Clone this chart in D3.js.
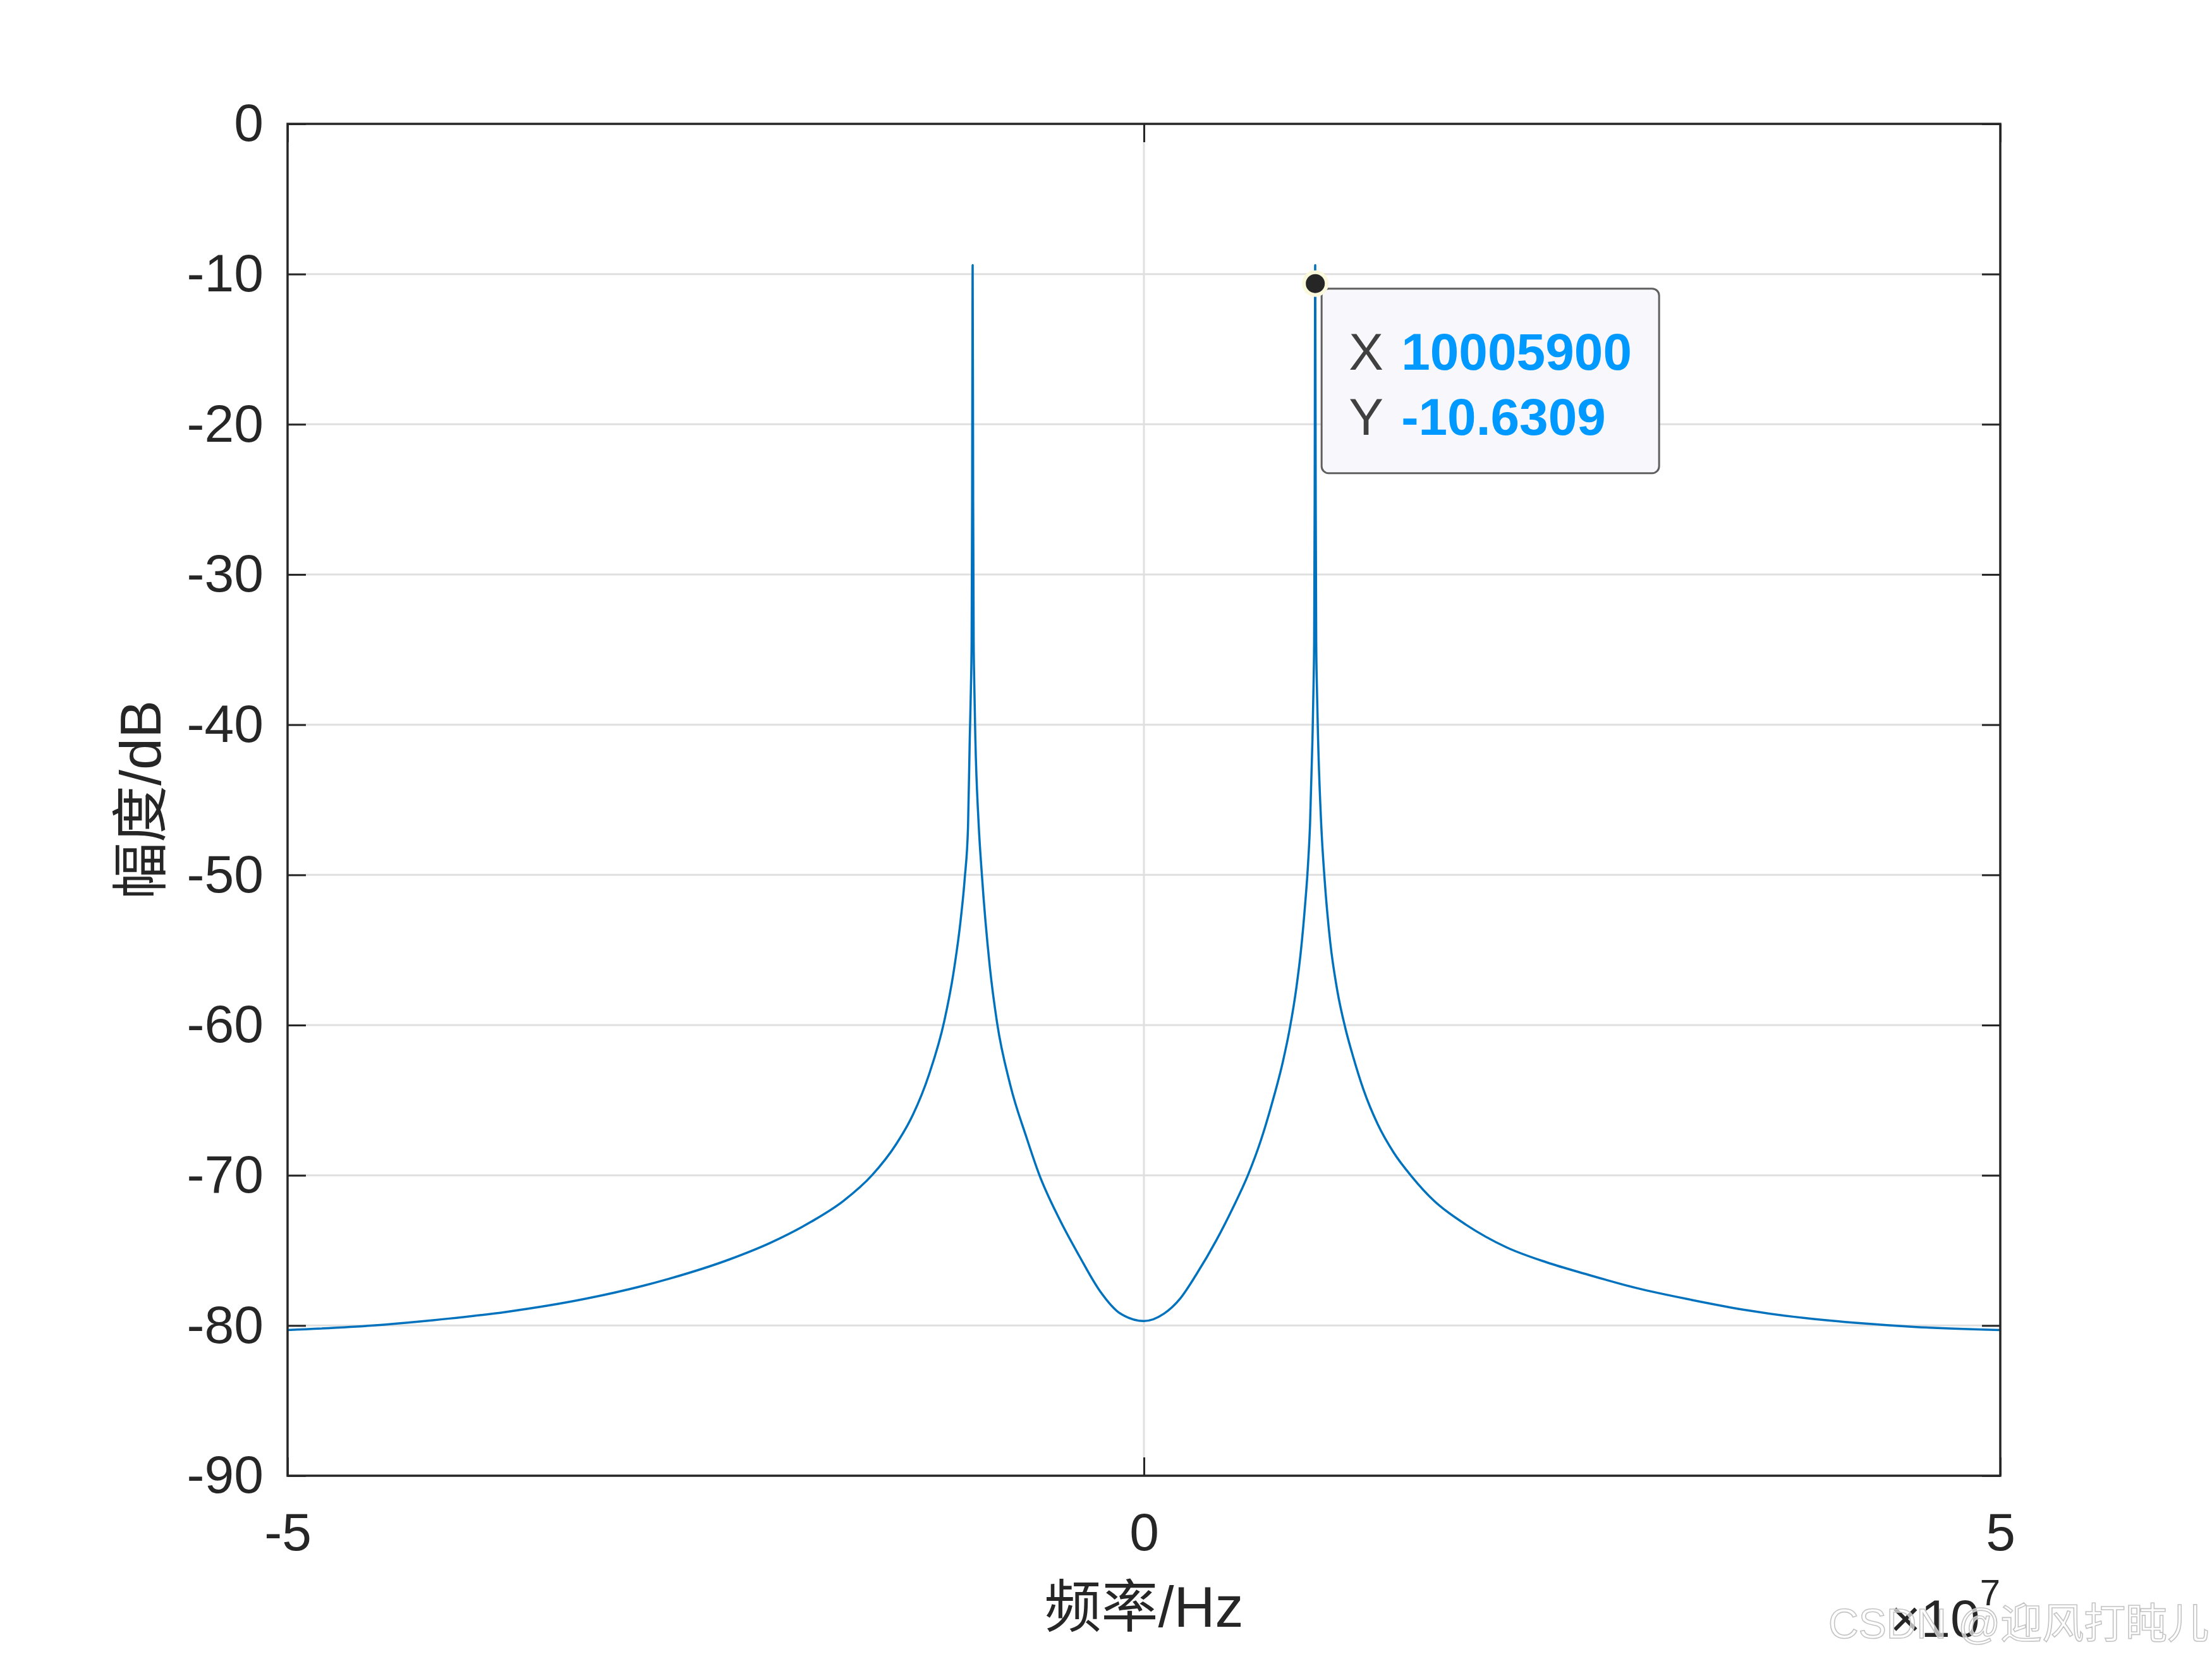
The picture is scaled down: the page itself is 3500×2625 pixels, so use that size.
<!DOCTYPE html>
<html>
<head>
<meta charset="utf-8">
<script src="https://cdn.jsdelivr.net/npm/d3@7"></script>
<style>
  html, body { margin: 0; padding: 0; background: #ffffff; }
  svg { display: block; }
</style>
</head>
<body>
<script>
// ---- data (frequency in units of 1e7 Hz, magnitude in dB) ----
const freqE7 = [
  -5.00, -4.50, -4.20, -3.727, -3.252, -2.776, -2.420, -2.182, -1.944, -1.754,
  -1.588, -1.445, -1.350, -1.255, -1.165, -1.113, -1.070, -1.046, -1.027, -1.017,
  -1.010, -1.006, -1.003, -1.0006, -1.000, -0.997, -0.994, -0.991, -0.984, -0.965,
  -0.946, -0.899, -0.858, -0.780, -0.685, -0.613, -0.494, -0.376, -0.257, -0.138,
  0.000,
  0.118, 0.212, 0.306, 0.424, 0.518, 0.607, 0.682, 0.753, 0.812, 0.852,
  0.889, 0.918, 0.941, 0.956, 0.970, 0.984, 0.991, 0.994, 0.997, 1.000,
  1.00059, 1.003, 1.006, 1.010, 1.017, 1.035, 1.055, 1.087, 1.129, 1.176,
  1.224, 1.282, 1.365, 1.459, 1.565, 1.694, 1.882, 2.118, 2.353, 2.588,
  2.874, 3.200, 3.530, 3.860, 4.190, 4.510, 5.000
];
const magDb = [
  -80.3, -80.0, -79.7, -79.1, -78.2, -76.9, -75.6, -74.5, -73.1, -71.7,
  -70.0, -67.9, -66.0, -63.3, -59.7, -56.6, -53.0, -50.2, -46.8, -41.0,
  -37.5, -34.5, -25.0, -10.6, -9.4, -25.0, -34.5, -37.0, -41.0, -46.6,
  -50.0, -56.2, -59.8, -64.0, -67.5, -69.9, -72.9, -75.4, -77.7, -79.2,
  -79.7,
  -79.2, -78.2, -76.6, -74.3, -72.2, -70.0, -67.7, -65.0, -62.4, -60.2,
  -57.6, -54.9, -52.0, -49.7, -46.6, -41.0, -37.0, -34.5, -25.0, -9.4,
  -10.6309, -25.0, -34.5, -37.5, -41.0, -46.6, -50.3, -54.4, -57.7, -60.2,
  -62.2, -64.3, -66.6, -68.5, -70.1, -71.7, -73.3, -74.8, -75.8, -76.6,
  -77.5, -78.3, -79.0, -79.5, -79.85, -80.1, -80.3
];
const xTicks = [-5, 0, 5];
const yTicks = [0, -10, -20, -30, -40, -50, -60, -70, -80, -90];
const tipXHz = 10005900;
const tipY = -10.6309;
const xLabel = "频率/Hz";
const yLabel = "幅度/dB";
const watermark = "CSDN @迎风打盹儿";

// ---- layout ----
const W = 3500, H = 2625;
const L = 455, R = 3165, T = 196, B = 2335;
const axisColor = "#262626";
const latin = "'Liberation Sans', Arial, Helvetica, sans-serif";
const mixed = "'Liberation Sans', 'Noto Sans CJK SC', sans-serif";

const svg = d3.select("body").append("svg")
  .attr("width", W).attr("height", H)
  .attr("viewBox", `0 0 ${W} ${H}`);
svg.append("rect").attr("width", W).attr("height", H).attr("fill", "#ffffff");

const x = d3.scaleLinear().domain([-5, 5]).range([L, R]);
const y = d3.scaleLinear().domain([-90, 0]).range([B, T]);

// grid
const grid = svg.append("g");
grid.selectAll("line.h").data(yTicks).join("line")
  .attr("x1", L).attr("x2", R)
  .attr("y1", d => y(d)).attr("y2", d => y(d))
  .attr("stroke", "#dfdfdf").attr("stroke-width", 3);
grid.selectAll("line.v").data(xTicks).join("line")
  .attr("y1", T).attr("y2", B)
  .attr("x1", d => x(d)).attr("x2", d => x(d))
  .attr("stroke", "#dfdfdf").attr("stroke-width", 3);

// data line
const pts = freqE7.map((f, i) => [f, magDb[i]]);
svg.append("path")
  .datum(pts)
  .attr("fill", "none")
  .attr("stroke", "#0072BD")
  .attr("stroke-width", 3.5)
  .attr("stroke-linejoin", "round")
  .attr("d", d3.line().x(d => x(d[0])).y(d => y(d[1])).curve(d3.curveMonotoneX));

// axes
const fmt = d => String(d);
function styleAxis(g, showLabels) {
  g.select(".domain").remove();
  g.selectAll(".tick line").attr("stroke", axisColor).attr("stroke-width", 3);
  g.selectAll(".tick text")
    .attr("fill", axisColor)
    .style("font-family", latin)
    .style("font-size", "84px");
  if (!showLabels) g.selectAll(".tick text").remove();
}
svg.append("g").attr("transform", `translate(0,${B})`)
  .call(d3.axisBottom(x).tickValues(xTicks).tickFormat(fmt).tickSize(-29).tickPadding(58))
  .call(g => styleAxis(g, true));
svg.append("g").attr("transform", `translate(0,${T})`)
  .call(d3.axisTop(x).tickValues(xTicks).tickFormat(fmt).tickSize(-29))
  .call(g => styleAxis(g, false));
svg.append("g").attr("transform", `translate(${L},0)`)
  .call(d3.axisLeft(y).tickValues(yTicks).tickFormat(fmt).tickSize(-29).tickPadding(38))
  .call(g => styleAxis(g, true));
svg.append("g").attr("transform", `translate(${R},0)`)
  .call(d3.axisRight(y).tickValues(yTicks).tickFormat(fmt).tickSize(-29))
  .call(g => styleAxis(g, false));

// box
svg.append("rect")
  .attr("x", L).attr("y", T).attr("width", R - L).attr("height", B - T)
  .attr("fill", "none").attr("stroke", axisColor).attr("stroke-width", 3.5);

// axis labels
svg.append("text")
  .attr("x", (L + R) / 2).attr("y", 2574)
  .attr("text-anchor", "middle")
  .attr("fill", axisColor)
  .style("font-family", mixed).style("font-size", "90px")
  .text(xLabel);
svg.append("text")
  .attr("transform", `translate(254,${(T + B) / 2}) rotate(-90)`)
  .attr("text-anchor", "middle")
  .attr("fill", axisColor)
  .style("font-family", mixed).style("font-size", "90px")
  .text(yLabel);

// exponent label
const expG = svg.append("text")
  .attr("x", R).attr("y", 2590)
  .attr("text-anchor", "end")
  .attr("fill", axisColor)
  .style("font-family", latin).style("font-size", "84px");
expG.append("tspan").text("×10");
expG.append("tspan").attr("dy", -50).style("font-size", "58px").text("7");

// data tip
const mx = x(tipXHz / 1e7), my = y(tipY);
const bx = mx + 10, by = my + 8;
svg.append("rect")
  .attr("x", bx).attr("y", by).attr("width", 534).attr("height", 292)
  .attr("rx", 11).attr("ry", 11)
  .attr("fill", "#f8f8fc").attr("stroke", "#5f5f5f").attr("stroke-width", 3);
const rows = [["X", String(tipXHz), 128], ["Y", String(tipY), 231]];
rows.forEach(r => {
  svg.append("text")
    .attr("x", bx + 43).attr("y", by + r[2])
    .attr("fill", "#404040")
    .style("font-family", latin).style("font-size", "82px")
    .text(r[0]);
  svg.append("text")
    .attr("x", bx + 126).attr("y", by + r[2])
    .attr("fill", "#0099ff")
    .style("font-family", latin).style("font-size", "82px").style("font-weight", "bold")
    .text(r[1]);
});
svg.append("circle").attr("cx", mx).attr("cy", my).attr("r", 21).attr("fill", "#fbf9dc");
svg.append("circle").attr("cx", mx).attr("cy", my).attr("r", 15).attr("fill", "#262626");

// watermark
svg.append("text")
  .attr("x", 2893).attr("y", 2592)
  .attr("fill", "rgba(255,255,255,0.65)")
  .attr("stroke", "#c4c4c4").attr("stroke-width", 1.6)
  .style("font-family", mixed).style("font-size", "66px")
  .text(watermark);
</script>
</body>
</html>
